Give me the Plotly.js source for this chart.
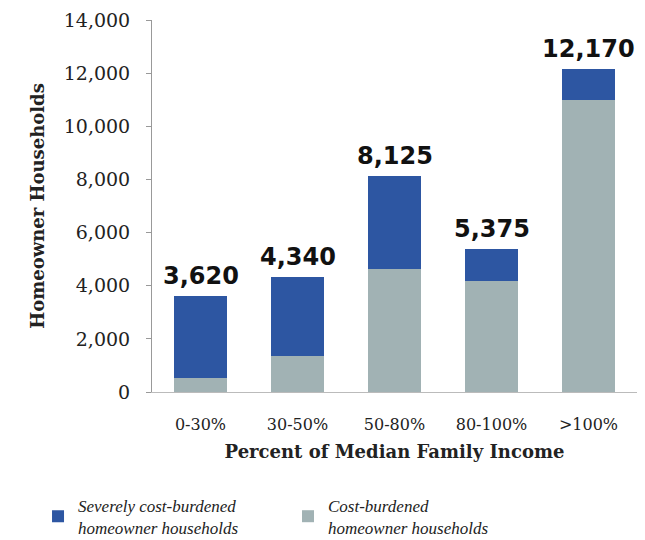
<!DOCTYPE html>
<html>
<head>
<meta charset="utf-8">
<script src="https://cdn.plot.ly/plotly-3.0.1.min.js"></script>
<style>html,body{margin:0;padding:0;background:#fff;}#chart{width:645px;height:540px;}</style>
</head>
<body>
<div id="chart"></div>
<script>
const categories = ["0-30%", "30-50%", "50-80%", "80-100%", ">100%"];
const costBurdened = [520, 1350, 4630, 4180, 11000];
const severelyBurdened = [3100, 2990, 3495, 1195, 1170];
const totals = [3620, 4340, 8125, 5375, 12170];
const totalLabels = ["3,620", "4,340", "8,125", "5,375", "12,170"];
const seriesNames = ["Severely cost-burdened<br>homeowner households", "Cost-burdened<br>homeowner households"];

const serif = "DejaVu Serif, serif";

const traces = [
  {
    type: "bar", x: categories, y: costBurdened, name: seriesNames[1],
    marker: {color: "#a1b2b4"}, showlegend: true, legendrank: 2, hoverinfo: "skip"
  },
  {
    type: "bar", x: categories, y: severelyBurdened, name: seriesNames[0],
    marker: {color: "#2d56a2"}, showlegend: true, legendrank: 1, hoverinfo: "skip"
  }
];

const annotations = categories.map((c, i) => ({
  x: c, y: totals[i], xref: "x", yref: "y", text: totalLabels[i],
  showarrow: false, yanchor: "bottom", yshift: 4,
  font: {family: "DejaVu Sans, sans-serif", size: 24, color: "#111", weight: "bold"}
}));

const layout = {
  width: 645, height: 540,
  margin: {l: 152, r: 8, t: 20, b: 148, autoexpand: false},
  paper_bgcolor: "#fff", plot_bgcolor: "#fff",
  barmode: "stack", bargap: 0.45,
  showlegend: true,
  legend: {
    orientation: "h", xref: "paper", yref: "paper",
    x: -0.235, y: -0.257, xanchor: "left", yanchor: "top",
    font: {family: "Liberation Serif, serif", size: 17, style: "italic", color: "#222"},
    traceorder: "normal", entrywidth: 205, itemwidth: 30
  },
  xaxis: {
    type: "category", range: [-0.5, 4.5], automargin: false,
    showline: true, linecolor: "#bbb", linewidth: 1,
    ticks: "", showgrid: false,
    tickfont: {family: serif, size: 16, color: "#222"},
    ticklabelstandoff: 18,
    title: {text: "Percent of Median Family Income", font: {family: serif, size: 18, color: "#222", weight: "bold"}, standoff: 12}
  },
  yaxis: {
    range: [0, 14000], dtick: 2000, tickformat: ",d", automargin: false,
    showline: true, linecolor: "#999", linewidth: 1,
    ticks: "outside", ticklen: 5, tickcolor: "#999",
    showgrid: false, zeroline: false,
    tickfont: {family: serif, size: 19, color: "#222"},
    ticklabelstandoff: 12,
    title: {text: "Homeowner Households", font: {family: serif, size: 18, color: "#222", weight: "bold"}, standoff: 14}
  },
  annotations: annotations
};

Plotly.newPlot("chart", traces, layout, {displayModeBar: false, staticPlot: true});
</script>
</body>
</html>
